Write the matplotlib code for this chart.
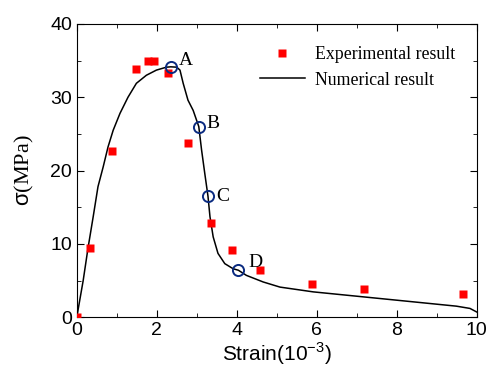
import matplotlib
matplotlib.use("Agg")
import matplotlib.pyplot as plt

# experimental points
exp_strain = [0.0, 0.34, 0.89, 1.48, 1.79, 1.93, 2.27, 2.77, 3.35, 3.89, 4.59, 5.88, 7.18, 9.66]
exp_stress = [0.0, 9.4, 22.7, 33.8, 35.0, 35.0, 33.3, 23.8, 12.8, 9.1, 6.4, 4.5, 3.8, 3.1]

# numerical curve
num_strain = [0.0, 0.16, 0.28, 0.41, 0.53, 0.66, 0.78, 0.91, 1.08, 1.28, 1.49, 1.74, 1.99,
              2.24, 2.35, 2.5, 2.58, 2.66, 2.78, 2.91, 3.05, 3.12, 3.2, 3.28, 3.33, 3.41,
              3.53, 3.7, 3.91, 4.04, 4.24, 4.66, 5.08, 5.91, 7.16, 8.41, 9.49, 9.83, 10.0]
num_stress = [0.0, 5.0, 9.4, 13.7, 17.8, 20.5, 23.2, 25.5, 27.8, 30.0, 31.9, 33.0, 33.7,
              34.1, 34.15, 34.1, 33.7, 31.9, 29.6, 28.2, 26.0, 22.8, 19.6, 16.5, 13.7, 10.95,
              8.7, 7.3, 6.6, 6.4, 5.7, 4.8, 4.1, 3.45, 2.77, 2.09, 1.5, 1.19, 0.7]

# marked points A-D
pt_labels = ["A", "B", "C", "D"]
pt_strain = [2.35, 3.05, 3.28, 4.04]
pt_stress = [34.15, 26.0, 16.5, 6.4]

plt.rcParams["font.family"] = ["Liberation Sans", "DejaVu Sans"]
plt.rcParams["mathtext.fontset"] = "custom"
plt.rcParams["mathtext.rm"] = "Liberation Serif"
plt.rcParams["mathtext.sf"] = "Liberation Sans"

fig = plt.figure(figsize=(4.86, 3.74), dpi=100)
ax = fig.add_axes([0.158, 0.152, 0.823, 0.784])

ax.plot(num_strain, num_stress, color="black", lw=1.1, label="Numerical result", zorder=2)
ax.plot(exp_strain, exp_stress, "s", color="#ff0000", ms=6, mec="none",
        label="Experimental result", zorder=3)
ax.plot(pt_strain, pt_stress, "o", mfc="none", mec="#0a2a80", mew=1.4, ms=8, zorder=4)

offsets = [(0.2, 0.8), (0.2, 0.4), (0.2, 0.0), (0.25, 1.0)]
for lab, x, y, (dx, dy) in zip(pt_labels, pt_strain, pt_stress, offsets):
    ax.text(x + dx, y + dy, lab, fontsize=14, family="Liberation Serif", va="center", ha="left")

ax.set_xlim(0, 10)
ax.set_ylim(0, 40)
ax.set_xticks([0, 2, 4, 6, 8, 10])
ax.set_yticks([0, 10, 20, 30, 40])
ax.set_xticks([1, 3, 5, 7, 9], minor=True)
ax.set_yticks([5, 15, 25, 35], minor=True)
ax.tick_params(which="both", direction="in", top=True, right=True, labelsize=14)
ax.tick_params(which="major", length=5)
ax.tick_params(which="minor", length=3)

ax.set_xlabel("Strain(10$^{\\mathsf{-3}}$)", fontsize=15, labelpad=1)
ax.set_ylabel("σ$\\mathrm{(MPa)}$", fontsize=16, labelpad=10)

handles, labels = ax.get_legend_handles_labels()
leg = ax.legend(handles[::-1], labels[::-1], loc="upper right", frameon=False,
                bbox_to_anchor=(0.978, 0.968),
                prop={"family": "Liberation Serif", "size": 12.8},
                handlelength=2.5, borderaxespad=0.3, handletextpad=0.6)

fig.savefig("out.png", dpi=100)
